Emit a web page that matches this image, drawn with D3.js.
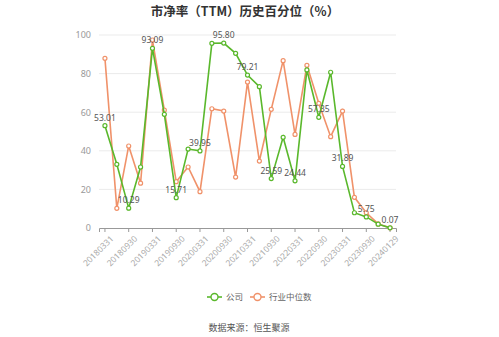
<!DOCTYPE html>
<html>
<head>
<meta charset="utf-8">
<script src="https://cdn.jsdelivr.net/npm/d3@7"></script>
<style>
  html, body { margin: 0; padding: 0; background: #fff; }
  svg { display: block; font-family: "Noto Sans CJK SC", "Noto Sans", sans-serif; }
</style>
</head>
<body>
<svg id="chart" width="499" height="337"></svg>
<script>
// Quarterly report dates
const dates = [
  "20180331","20180630","20180930","20181231",
  "20190331","20190630","20190930","20191231",
  "20200331","20200630","20200930","20201231",
  "20210331","20210630","20210930","20211231",
  "20220331","20220630","20220930","20221231",
  "20230331","20230630","20230930","20231231",
  "20240129"
];
// Company P/B percentile
const company = [
  53.01, 33.0, 10.29, 31.6,
  93.09, 58.9, 15.71, 40.9,
  39.95, 95.7, 95.80, 90.5,
  79.21, 73.2, 25.59, 47.0,
  24.44, 81.9, 57.35, 80.7,
  31.89, 7.9, 5.75, 2.0,
  0.07
];
// Industry median P/B percentile
const industry = [
  87.9, 10.2, 42.5, 23.2,
  97.4, 61.1, 24.0, 31.6,
  18.8, 61.8, 60.6, 26.4,
  75.6, 34.7, 61.5, 86.7,
  48.5, 84.3, 64.6, 47.3,
  60.6, 15.9, 7.9, 2.1,
  0.1
];
const yTicks = [0, 20, 40, 60, 80, 100];
const seriesNames = ["公司", "行业中位数"];

const colors = { company: "#5ab82c", industry: "#f0926a" };
const svg = d3.select("#chart");

const margin = { left: 99, right: 103, top: 35, bottom: 109 };
const W = 499, H = 337;

const x = d3.scaleBand().domain(dates).range([margin.left, W - margin.right]);
const y = d3.scaleLinear().domain([0, 100]).range([H - margin.bottom, margin.top]);
const cx = d => x(d) + x.bandwidth() / 2;

// Title
svg.append("text")
  .attr("x", 245).attr("y", 16)
  .attr("text-anchor", "middle")
  .attr("font-size", 12.5).attr("font-weight", "bold")
  .attr("fill", "#333")
  .text("市净率（TTM）历史百分位（%）");

// Horizontal grid lines
svg.append("g").selectAll("line")
  .data(yTicks.filter(t => t > 0))
  .join("line")
  .attr("x1", margin.left).attr("x2", W - margin.right)
  .attr("y1", d => y(d)).attr("y2", d => y(d))
  .attr("stroke", "#ebebeb").attr("stroke-width", 1);

// Y axis labels
const yAxis = d3.axisLeft(y).tickValues(yTicks).tickSize(0).tickPadding(8);
svg.append("g")
  .attr("transform", `translate(${margin.left},0)`)
  .call(yAxis)
  .call(g => g.select(".domain").remove())
  .call(g => g.selectAll("text").attr("fill", "#999").attr("font-size", 9)
    .attr("font-family", "\"Noto Sans\", sans-serif"));

// X axis
const xAxis = d3.axisBottom(x)
  .tickValues(dates.filter((d, i) => i % 2 === 0))
  .tickSize(4).tickPadding(2);
const gx = svg.append("g")
  .attr("transform", `translate(0,${y(0)})`)
  .call(xAxis);
gx.select(".domain").attr("stroke", "#999");
gx.selectAll(".tick line").attr("stroke", "#999");
gx.selectAll("text")
  .attr("fill", "#aaa").attr("font-size", 8.5)
  .attr("font-family", "\"Noto Sans\", sans-serif")
  .attr("text-anchor", "end")
  .attr("transform", "translate(2,4) rotate(-45)")
  .attr("dx", 0).attr("dy", "0.5em");

// Lines
const line = d3.line().x((d, i) => cx(dates[i])).y(d => y(d));

function drawSeries(values, color) {
  svg.append("path")
    .datum(values)
    .attr("fill", "none")
    .attr("stroke", color)
    .attr("stroke-width", 1.6)
    .attr("d", line);
  svg.append("g").selectAll("circle")
    .data(values)
    .join("circle")
    .attr("cx", (d, i) => cx(dates[i]))
    .attr("cy", d => y(d))
    .attr("r", 2)
    .attr("fill", "#fff")
    .attr("stroke", color)
    .attr("stroke-width", 1.2);
}
drawSeries(industry, colors.industry);
drawSeries(company, colors.company);

// Value labels on every other company point
svg.append("g").selectAll("text")
  .data(company.map((v, i) => ({ v, i })).filter(d => d.i % 2 === 0))
  .join("text")
  .attr("x", d => cx(dates[d.i]))
  .attr("y", d => y(d.v) - 5)
  .attr("text-anchor", "middle")
  .attr("font-size", 8.5)
  .attr("font-family", "\"Noto Sans\", sans-serif")
  .attr("fill", "#555")
  .text(d => d.v.toFixed(2));

// Legend
const legend = svg.append("g").attr("transform", "translate(0,297)");
const items = [
  { name: seriesNames[0], color: colors.company, x: 207 },
  { name: seriesNames[1], color: colors.industry, x: 250 }
];
items.forEach(it => {
  legend.append("line")
    .attr("x1", it.x).attr("x2", it.x + 15)
    .attr("y1", 0).attr("y2", 0)
    .attr("stroke", it.color).attr("stroke-width", 1.6);
  legend.append("circle")
    .attr("cx", it.x + 7.5).attr("cy", 0).attr("r", 3.5)
    .attr("fill", "#fff").attr("stroke", it.color).attr("stroke-width", 1.4);
  legend.append("text")
    .attr("x", it.x + 19).attr("y", 3)
    .attr("font-size", 8.5).attr("fill", "#666")
    .text(it.name);
});

// Source note
svg.append("text")
  .attr("x", 249).attr("y", 331)
  .attr("text-anchor", "middle")
  .attr("font-size", 9).attr("fill", "#555")
  .text("数据来源：恒生聚源");
</script>
</body>
</html>
